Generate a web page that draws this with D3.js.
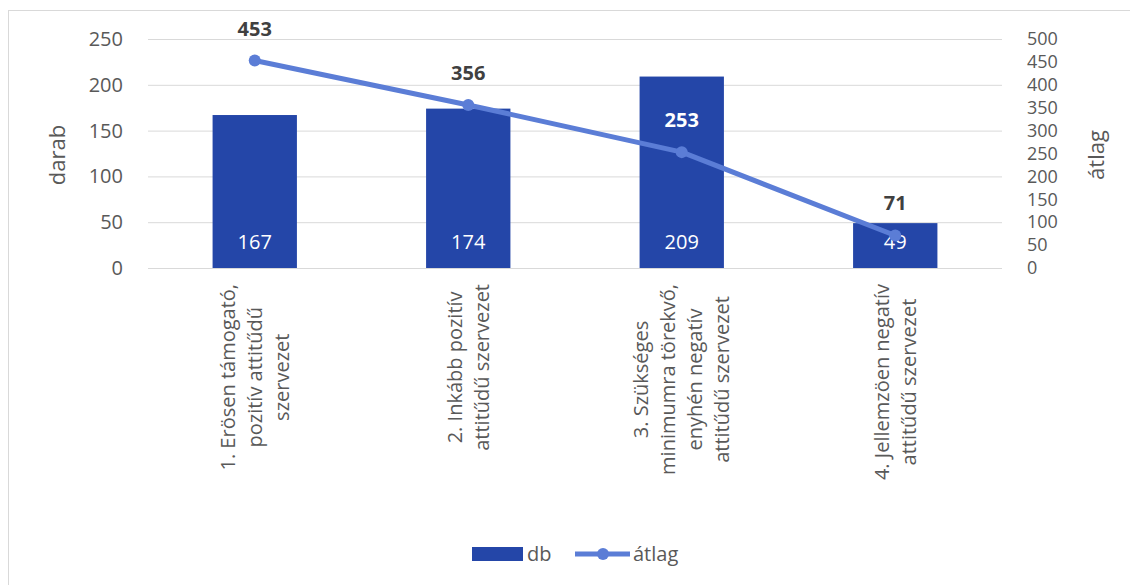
<!DOCTYPE html>
<html>
<head>
<meta charset="utf-8">
<script src="https://cdn.jsdelivr.net/npm/d3@7"></script>
<style>
    body { margin: 0; background: #fff; }
    text { font-family: "Open Sans", "Noto Sans", sans-serif; }
</style>
</head>
<body>
<div id="chart"></div>
<script>
// data
var categories = [
    ["1. Erösen támogató,", "pozitív attitűdű", "szervezet"],
    ["2. Inkább pozitív", "attitűdű szervezet"],
    ["3. Szükséges", "minimumra törekvő,", "enyhén negatív", "attitűdű szervezet"],
    ["4. Jellemzöen negatív", "attitűdű szervezet"]
];
var db = [167, 174, 209, 49];
var atlag = [453, 356, 253, 71];
var leftTicks = [0, 50, 100, 150, 200, 250];
var rightTicks = [0, 50, 100, 150, 200, 250, 300, 350, 400, 450, 500];

var width = 1130, height = 585;
var barColor = "#2446a8";
var lineColor = "#5b7dd6";
var textColor = "#595959";

var svg = d3.select("#chart").append("svg")
    .attr("width", width)
    .attr("height", height);

// outer frame
svg.append("rect")
    .attr("x", 8.5).attr("y", 10.5)
    .attr("width", 1140).attr("height", 600)
    .attr("fill", "none")
    .attr("stroke", "#d9d9d9");

var plotLeft = 148, plotRight = 1002;
var plotTop = 39, plotBottom = 268;

var x = d3.scaleBand()
    .domain(d3.range(categories.length))
    .range([plotLeft, plotRight])
    .paddingInner(0.605)
    .paddingOuter(0.3025);

var yL = d3.scaleLinear().domain([0, 250]).range([plotBottom, plotTop]);
var yR = d3.scaleLinear().domain([0, 500]).range([plotBottom, plotTop]);

// gridlines + left axis
var gl = svg.append("g")
    .attr("transform", "translate(" + plotLeft + ",0)")
    .call(d3.axisLeft(yL).tickValues(leftTicks).tickSize(-(plotRight - plotLeft)).tickPadding(25));
gl.select(".domain").remove();
gl.selectAll(".tick line").attr("stroke", "#d9d9d9");
gl.selectAll(".tick text")
    .attr("fill", textColor)
    .style("font-size", "20px")
    .style("font-family", "'Open Sans', sans-serif");

// right axis (labels packed tight like the original)
var gr = svg.append("g")
    .attr("transform", "translate(" + plotRight + ",0)")
    .call(d3.axisRight(yR).tickValues(rightTicks).tickSize(0).tickPadding(25));
gr.select(".domain").remove();
gr.selectAll(".tick text")
    .attr("fill", textColor)
    .style("font-size", "18px")
    .style("font-family", "'Open Sans', sans-serif");

// axis titles
svg.append("text")
    .attr("transform", "translate(65,155) rotate(-90)")
    .attr("text-anchor", "middle")
    .attr("fill", textColor)
    .style("font-size", "22px")
    .text("darab");

svg.append("text")
    .attr("transform", "translate(1104,155) rotate(-90)")
    .attr("text-anchor", "middle")
    .attr("fill", textColor)
    .style("font-size", "22px")
    .text("átlag");

// bars
svg.selectAll(".bar")
    .data(db)
    .enter().append("rect")
    .attr("class", "bar")
    .attr("x", function (d, i) { return x(i); })
    .attr("y", function (d) { return yL(d); })
    .attr("width", x.bandwidth())
    .attr("height", function (d) { return yL(0) - yL(d); })
    .attr("fill", barColor);

// bar labels at bottom
svg.selectAll(".barlabel")
    .data(db)
    .enter().append("text")
    .attr("x", function (d, i) { return x(i) + x.bandwidth() / 2; })
    .attr("y", yL(0) - 19)
    .attr("text-anchor", "middle")
    .attr("fill", "#fff")
    .style("font-size", "20px")
    .text(function (d) { return d; });

// line
var line = d3.line()
    .x(function (d, i) { return x(i) + x.bandwidth() / 2; })
    .y(function (d) { return yR(d); });

svg.append("path")
    .datum(atlag)
    .attr("d", line)
    .attr("fill", "none")
    .attr("stroke", lineColor)
    .attr("stroke-width", 5)
    .attr("stroke-linecap", "round")
    .attr("stroke-linejoin", "round");

svg.selectAll(".pt")
    .data(atlag)
    .enter().append("circle")
    .attr("cx", function (d, i) { return x(i) + x.bandwidth() / 2; })
    .attr("cy", function (d) { return yR(d); })
    .attr("r", 6)
    .attr("fill", lineColor);

// line labels
svg.selectAll(".ptlabel")
    .data(atlag)
    .enter().append("text")
    .attr("x", function (d, i) { return x(i) + x.bandwidth() / 2; })
    .attr("y", function (d) { return yR(d) - 25; })
    .attr("text-anchor", "middle")
    .attr("fill", function (d, i) {
        // white when sitting on the bar
        return (yR(d) - 30) > yL(db[i]) ? "#fff" : "#404040";
    })
    .style("font-size", "20px")
    .style("font-weight", "bold")
    .text(function (d) { return d; });

// category labels, rotated, lines centred, block aligned to the top
var labelTop = 284;
var lineH = 27;
categories.forEach(function (lines, i) {
    var cx = x(i) + x.bandwidth() / 2;
    var g = svg.append("g");
    var texts = lines.map(function (l) {
        return g.append("text")
            .attr("fill", textColor)
            .style("font-size", "20px")
            .attr("text-anchor", "middle")
            .text(l);
    });
    var maxW = d3.max(texts, function (t) { return t.node().getComputedTextLength(); });
    var n = lines.length;
    texts.forEach(function (t, j) {
        var off = (j - (n - 1) / 2) * lineH;
        // baseline shift so the glyph column centres on cx + off
        t.attr("transform", "translate(" + (cx + off + 7) + "," + (labelTop + maxW / 2) + ") rotate(-90)");
    });
});

// legend
var lg = svg.append("g");
lg.append("rect")
    .attr("x", 472).attr("y", 547)
    .attr("width", 51).attr("height", 14)
    .attr("fill", barColor);
lg.append("text")
    .attr("x", 527).attr("y", 561)
    .attr("fill", textColor)
    .style("font-size", "20px")
    .text("db");
lg.append("line")
    .attr("x1", 575).attr("x2", 630)
    .attr("y1", 554).attr("y2", 554)
    .attr("stroke", lineColor)
    .attr("stroke-width", 5);
lg.append("circle")
    .attr("cx", 603).attr("cy", 554).attr("r", 6)
    .attr("fill", lineColor);
lg.append("text")
    .attr("x", 633).attr("y", 561)
    .attr("fill", textColor)
    .style("font-size", "20px")
    .text("átlag");
</script>
</body>
</html>
